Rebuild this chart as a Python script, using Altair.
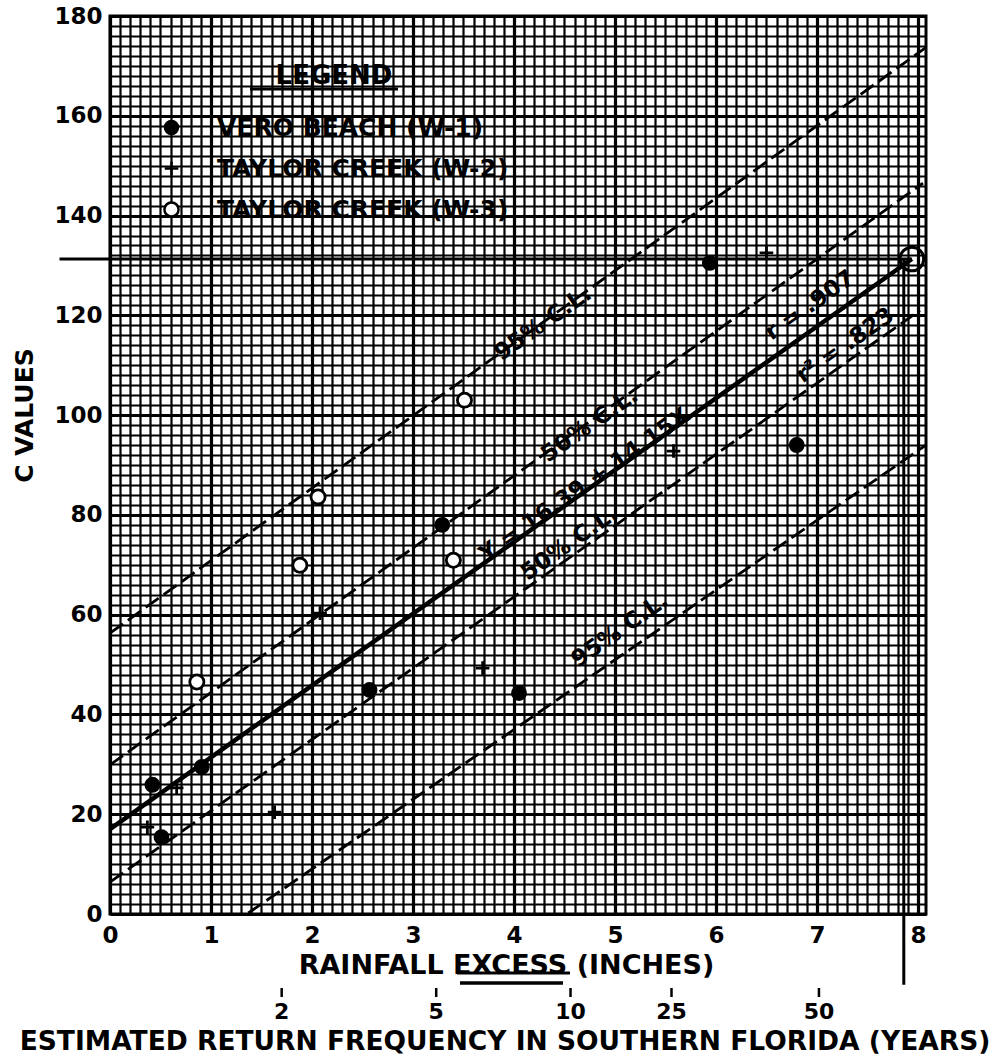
import altair as alt
import pandas as pd

FONT = "DejaVu Sans"

# ---------------- data ----------------
series = ["VERO BEACH (W-1)", "TAYLOR CREEK (W-2)", "TAYLOR CREEK (W-3)"]

vero_x = [0.42, 0.51, 0.91, 2.57, 3.29, 4.05, 5.94, 6.80]
vero_y = [25.9, 15.4, 29.5, 44.9, 78.0, 44.3, 130.5, 94.0]

w2_x = [0.37, 0.66, 1.63, 2.08, 3.69, 5.58, 6.50]
w2_y = [17.4, 25.3, 20.4, 60.3, 49.3, 92.8, 132.5]

w3_x = [0.86, 1.88, 2.06, 3.40, 3.51]
w3_y = [46.5, 69.9, 83.6, 70.9, 103.0]

# regression line and confidence limits (end points)
reg_x1, reg_y1, reg_x2, reg_y2 = [0.0], [17.0], [7.94], [131.3]
cl_names = ["upper 95%", "upper 50%", "lower 50%", "lower 95%"]
cl_x1 = [0.0, 0.0, 0.0, 1.37]
cl_y1 = [56.3, 29.9, 6.4, 0.2]
cl_x2 = [8.08, 8.05, 8.02, 8.08]
cl_y2 = [173.7, 146.5, 121.0, 94.0]

# labels written along the lines
lab_text = ["95% C.L.", "50% C.L.", "Y = 16.39 + 14.15X", "r = .907",
            "r\u00b2 = .823", "50% C.L.", "95% C.L."]
lab_x = [4.29, 4.75, 4.70, 6.93, 7.28, 4.55, 5.05]
lab_y = [118.4, 98.0, 86.0, 122.0, 114.0, 74.3, 56.9]

# design point (circled) and its guide lines
design_x, design_y = [7.94], [131.3]
hline_x1, hline_x2 = [-0.50], [7.94]
vline_x, vline_y2 = [7.86], [-14.2]

# return frequency scale under the x axis
rf_years = ["2", "5", "10", "25", "50"]
rf_x = [1.70, 3.23, 4.56, 5.56, 7.02]

# axis ticks / gridlines (graph paper)
x_vals = [round(i * 0.1, 1) for i in range(0, 81)]
y_vals = list(range(0, 181, 2))

# ---------------- tables ----------------
pts = pd.DataFrame({
    "x": vero_x + w2_x + w3_x,
    "y": vero_y + w2_y + w3_y,
    "series": [series[0]] * len(vero_x) + [series[1]] * len(w2_x) + [series[2]] * len(w3_x),
})
reg = pd.DataFrame({"x": reg_x1, "y": reg_y1, "x2": reg_x2, "y2": reg_y2})
cl = pd.DataFrame({"name": cl_names, "x": cl_x1, "y": cl_y1, "x2": cl_x2, "y2": cl_y2})
labs = pd.DataFrame({"x": lab_x, "y": lab_y, "t": lab_text})
dpt = pd.DataFrame({"x": design_x, "y": design_y})
guides = pd.DataFrame({
    "x": [hline_x1[0], vline_x[0]], "x2": [hline_x2[0], vline_x[0]],
    "y": [design_y[0], design_y[0]], "y2": [design_y[0], vline_y2[0]],
})
rf = pd.DataFrame({"x": rf_x, "t": rf_years})

XS = alt.Scale(domain=[0, 8.08], nice=False, zero=False)
YS = alt.Scale(domain=[0, 180], nice=False, zero=False)

X_AX = alt.Axis(
    values=x_vals, grid=True, gridColor="#000000",
    gridWidth={"condition": {"test": "datum.value % 1 === 0", "value": 3.2}, "value": 2.2},
    ticks=False, domain=False,
    labelExpr="datum.value % 1 === 0 ? format(datum.value, 'd') : ''",
    labelFont=FONT, labelFontSize=23, labelFontWeight="bold", labelColor="black",
    labelPadding=10, labelOverlap=False, labelFlush=False,
    title="RAINFALL  EXCESS  (INCHES)", titleFont=FONT, titleFontSize=27,
    titleFontWeight="bold", titleColor="black", titlePadding=5, titleX=396,
)
Y_AX = alt.Axis(
    values=y_vals, grid=True, gridColor="#000000",
    gridWidth={"condition": {"test": "datum.value % 20 === 0", "value": 3.2}, "value": 2.2},
    ticks=False, domain=False,
    labelExpr="datum.value % 20 === 0 ? datum.label : ''",
    labelFont=FONT, labelFontSize=23, labelFontWeight="bold", labelColor="black",
    labelPadding=8, labelOverlap=False, labelFlush=False,
    title="C  VALUES", titleFont=FONT, titleFontSize=25, titleFontWeight="bold",
    titleColor="black", titleX=-73, titleY=399,
)


def X(f):
    return alt.X(f, type="quantitative", scale=XS, axis=X_AX)


def Y(f):
    return alt.Y(f, type="quantitative", scale=YS, axis=Y_AX)


cl_layer = alt.Chart(cl).mark_rule(color="black", strokeWidth=2.8, strokeDash=[16, 6]).encode(
    x=X("x"), y=Y("y"), x2="x2:Q", y2="y2:Q")

reg_layer = alt.Chart(reg).mark_rule(color="black", strokeWidth=4.5).encode(
    x=X("x"), y=Y("y"), x2="x2:Q", y2="y2:Q")

guide_layer = alt.Chart(guides).mark_rule(color="black", strokeWidth=3).encode(
    x=X("x"), y=Y("y"), x2="x2:Q", y2="y2:Q")

circle_layer = alt.Chart(dpt).mark_point(
    shape="circle", size=560, filled=False, color="black", strokeWidth=3, opacity=1
).encode(x=X("x"), y=Y("y"))

label_layer = alt.Chart(labs).mark_text(
    angle=325, font=FONT, fontSize=23, fontWeight="bold", color="black"
).encode(x=X("x"), y=Y("y"), text="t:N")

point_layer = alt.Chart(pts).mark_point(
    color="black", strokeWidth=2.8, opacity=1, fillOpacity=1
).encode(
    x=X("x"), y=Y("y"),
    shape=alt.Shape("series:N",
                    scale=alt.Scale(domain=series, range=["circle", "M-1,0H1M0,-1V1", "circle"]),
                    legend=alt.Legend(
                        title="LEGEND", orient="none", legendX=49, legendY=47,
                        titleFont=FONT, titleFontSize=26, titleFontWeight="bold",
                        titleColor="black", titleAnchor="middle", titlePadding=26,
                        labelFont=FONT, labelFontSize=25, labelFontWeight="bold",
                        labelColor="black", labelOffset=33, rowPadding=15, labelLimit=0,
                        symbolStrokeColor="black", symbolStrokeWidth=2.5,
                    )),
    fill=alt.Fill("series:N",
                  scale=alt.Scale(domain=series, range=["black", "transparent", "white"])),
    size=alt.Size("series:N",
                  scale=alt.Scale(domain=series, range=[170, 200, 95])),
)

legend_underline = alt.Chart(pd.DataFrame({"t": ["LEGEND"]})).mark_rule(
    color="black", strokeWidth=3).encode(
    x=alt.value(140), x2=alt.value(288), y=alt.value(73))

rf_ticks = alt.Chart(rf).mark_rule(color="black", strokeWidth=2.5).encode(
    x=X("x"), y=alt.value(972), y2=alt.value(981))
rf_text = alt.Chart(rf).mark_text(
    font=FONT, fontSize=22, fontWeight="bold", color="black", baseline="middle"
).encode(x=X("x"), y=alt.value(996), text="t:N")

excess_ul = alt.Chart(pd.DataFrame({"t": ["EXCESS"]})).mark_rule(
    color="black", strokeWidth=3).encode(
    x=alt.value(347), x2=alt.value(460), y=alt.value(957))
excess_ul2 = alt.Chart(pd.DataFrame({"t": ["EXCESS"]})).mark_rule(
    color="black", strokeWidth=3.5).encode(
    x=alt.value(350), x2=alt.value(453), y=alt.value(967))

bottom_title = alt.Chart(pd.DataFrame({
    "t": ["ESTIMATED RETURN FREQUENCY IN SOUTHERN FLORIDA (YEARS)"]})).mark_text(
    font=FONT, fontSize=26.5, fontWeight="bold", color="black", baseline="middle"
).encode(x=alt.value(395), y=alt.value(1026), text="t:N")

chart = alt.layer(
    cl_layer, reg_layer, guide_layer, circle_layer, label_layer, point_layer,
    legend_underline, rf_ticks, rf_text, excess_ul, excess_ul2, bottom_title,
).properties(
    width=816, height=898,
    padding={"left": 110, "top": 16, "right": 76, "bottom": 144},
    autosize=alt.AutoSizeParams(type="none"),
    background="white",
).configure_view(stroke="black", strokeWidth=3)

chart.save("out.html", embed_options={"renderer": "svg", "actions": False})
